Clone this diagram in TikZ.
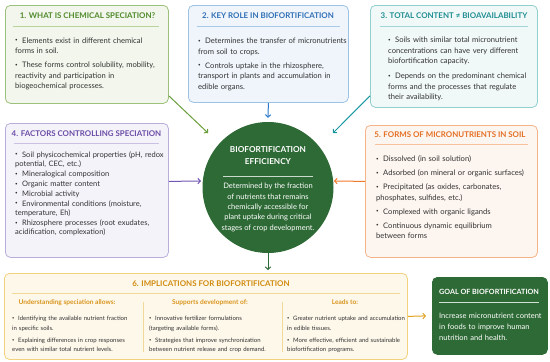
\documentclass[tikz,border=0pt]{standalone}
\usepackage{fontspec}
\setmainfont{Lato}
\usetikzlibrary{arrows.meta}
\definecolor{txt}{HTML}{333333}
\definecolor{gT}{HTML}{4F8A2A}\definecolor{gB}{HTML}{9DC07A}\definecolor{gF}{HTML}{F2F6EC}\definecolor{gR}{HTML}{B8D39D}\definecolor{gA}{HTML}{6B9E3A}
\definecolor{bT}{HTML}{2F6EB5}\definecolor{bB}{HTML}{9CC2E6}\definecolor{bF}{HTML}{EFF5FB}\definecolor{bR}{HTML}{A9C9E8}\definecolor{bA}{HTML}{2D7BC8}
\definecolor{tT}{HTML}{1F8E92}\definecolor{tB}{HTML}{92CFCF}\definecolor{tF}{HTML}{F1F8F8}\definecolor{tR}{HTML}{A3D6D6}\definecolor{tA}{HTML}{1998A2}
\definecolor{pT}{HTML}{6A4CA6}\definecolor{pB}{HTML}{B9AEDA}\definecolor{pF}{HTML}{F5F3FA}\definecolor{pR}{HTML}{C9C0E3}\definecolor{pA}{HTML}{7256B4}
\definecolor{oT}{HTML}{E46F25}\definecolor{oB}{HTML}{F4B487}\definecolor{oF}{HTML}{FDF5EF}\definecolor{oR}{HTML}{F6C29E}\definecolor{oA}{HTML}{EF7A2C}
\definecolor{yT}{HTML}{D08A0E}\definecolor{yS}{HTML}{D9951C}\definecolor{yB}{HTML}{F3D27E}\definecolor{yF}{HTML}{FEF8EB}\definecolor{yR}{HTML}{F1D99A}\definecolor{yA}{HTML}{E3A21F}
\definecolor{dkg}{HTML}{2E6A36}
\newcommand\bitem[2][3.5pt]{\par\vspace{#1}\noindent\hangindent=7pt\hangafter=1\makebox[7pt][l]{\raisebox{0.35ex}{\fontsize{4.5}{5}\selectfont\textbullet}}\strut#2}
\newcommand\bitemb[2][2.7pt]{\par\vspace{#1}\noindent\hangindent=6pt\hangafter=1\makebox[6pt][l]{\raisebox{0.35ex}{\fontsize{4}{5}\selectfont\textbullet}}\strut#2}
\tikzset{
  box/.style={draw, rounded corners=5pt, line width=0.8pt, inner sep=0pt, anchor=north west},
  ttl/.style={font=\fontsize{7.9}{9}\selectfont\bfseries, inner sep=0pt, text height=5.6pt, text depth=0pt},
  body/.style={text width=#1, inner sep=0pt, anchor=north west, text=txt, font=\fontsize{7.6}{10.5}\selectfont},
  bodyb/.style={text width=#1, inner sep=0pt, anchor=north west, text=txt, font=\fontsize{6}{9.3}\selectfont},
  sub/.style={font=\fontsize{6.6}{7}\selectfont\bfseries, text=yS, inner sep=0pt, text height=4.8pt, text depth=1.5pt},
  rule/.style={line width=0.7pt},
  conn/.style={line width=1pt, -{Straight Barb[length=2.5pt,width=5.5pt]}}
}
\begin{document}
\begin{tikzpicture}[x=1pt,y=-1pt]
\useasboundingbox (0,0) rectangle (550,362);
% boxes
\node[box, draw=gB, fill=gF, minimum width=163pt, minimum height=98pt] (b1) at (5,5) {};
\node[box, draw=bB, fill=bF, minimum width=160pt, minimum height=97pt] (b2) at (188,5) {};
\node[box, draw=tB, fill=tF, minimum width=167pt, minimum height=102pt] (b3) at (370,5) {};
\node[box, draw=pB, fill=pF, minimum width=163pt, minimum height=134pt] (b4) at (5,123) {};
\node[box, draw=oB, fill=oF, minimum width=172pt, minimum height=132pt] (b5) at (365,125) {};
\node[box, draw=yB, fill=yF, minimum width=403pt, minimum height=86pt] (b6) at (4,273) {};
\node[box, draw=dkg, fill=dkg, minimum width=115pt, minimum height=77pt] (goal) at (432,277) {};
\node[circle, fill=dkg, minimum size=131pt, inner sep=0pt] (c) at (268,187.5) {};
% titles
\node[ttl, text=gT] (t1) at (87.5,16) {1. WHAT IS CHEMICAL SPECIATION?};
\node[ttl, text=bT] (t2) at (268,16) {2. KEY ROLE IN BIOFORTIFICATION};
\node[ttl, text=tT] (t3) at (454,16) {3. TOTAL CONTENT ≠ BIOAVAILABILITY};
\node[ttl, text=pT] (t4) at (86.5,134) {4. FACTORS CONTROLLING SPECIATION};
\node[ttl, text=oT] (t5) at (450,135) {5. FORMS OF MICRONUTRIENTS IN SOIL};
\node[ttl, text=yT] (t6) at (211,284) {6. IMPLICATIONS FOR BIOFORTIFICATION};
\node[ttl, text=white, anchor=west, font=\fontsize{7.2}{8}\selectfont\bfseries] (tg) at (439,292) {GOAL OF BIOFORTIFICATION};
\node[text=white, align=center, inner sep=0pt, font=\fontsize{8.2}{12.4}\selectfont\bfseries] (tc) at (268,155.5) {BIOFORTIFICATION\\EFFICIENCY};
% rules
\draw[rule, gR] (13,26) -- (159,26);
\draw[rule, bR] (197,26) -- (340,26);
\draw[rule, tR] (380,26) -- (528,26);
\draw[rule, pR] (14,143) -- (159,143);
\draw[rule, oR] (375,144) -- (528,144);
\draw[rule, yR] (12,293) -- (400,293);
\draw[rule, white!80!dkg] (439,302) -- (539,302);
\draw[rule, white!75!dkg] (223,176) -- (313,176);
\draw[line width=0.6pt, yR] (143,302) -- (143,352);
\draw[line width=0.6pt, yR] (282,302) -- (282,352);
% bodies
\node[body=170pt] (x1) at (15,32.6) {\raggedright
\bitem[0pt]{Elements exist in different chemical\\forms in soil.}
\bitem{These forms control solubility, mobility,\\reactivity and participation in\\biogeochemical processes.}};
\node[body=170pt] (x2) at (198,32.9) {\raggedright
\bitem[0pt]{Determines the transfer of micronutrients\\from soil to crops.}
\bitem{Controls uptake in the rhizosphere,\\transport in plants and accumulation in\\edible organs.}};
\node[body=170pt] (x3) at (388,31.9) {\raggedright
\bitem[0pt]{Soils with similar total micronutrient\\concentrations can have very different\\biofortification capacity.}
\bitem[4.5pt]{Depends on the predominant chemical\\forms and the processes that regulate\\their availability.}};
\node[body=170pt, font=\fontsize{7.5}{9.3}\selectfont] (x4) at (15,147.8) {\raggedright
\bitem[0pt]{Soil physicochemical properties (pH, redox\\potential, CEC, etc.)}
\bitem[0.6pt]{Mineralogical composition}
\bitem[0.6pt]{Organic matter content}
\bitem[0.6pt]{Microbial activity}
\bitem[0.6pt]{Environmental conditions (moisture,\\temperature, Eh)}
\bitem[0.6pt]{Rhizosphere processes (root exudates,\\acidification, complexation)}};
\node[body=170pt] (x5) at (376,150.9) {\raggedright
\bitem[0pt]{Dissolved (in soil solution)}
\bitem{Adsorbed (on mineral or organic surfaces)}
\bitem{Precipitated (as oxides, carbonates,\\phosphates, sulfides, etc.)}
\bitem{Complexed with organic ligands}
\bitem{Continuous dynamic equilibrium\\between forms}};
\node[text=white, align=center, inner sep=0pt, font=\fontsize{7.5}{10.4}\selectfont] (xc) at (268,207.5) {Determined by the fraction\\of nutrients that remains\\chemically accessible for\\plant uptake during critical\\stages of crop development.};
\node[body=130pt, text=white, font=\fontsize{7.5}{11.3}\selectfont] (xg) at (439,310.1) {\raggedright\strut Increase micronutrient content\\in foods to improve human\\nutrition and health.};
% box 6 columns
\node[sub] (s1) at (67,303) {Understanding speciation allows:};
\node[sub] (s2) at (210,303) {Supports development of:};
\node[sub] (s3) at (345,303) {Leads to:};
\node[bodyb=150pt] (y1) at (12,311.3) {\raggedright
\bitemb[0pt]{Identifying the available nutrient fraction\\in specific soils.}
\bitemb{Explaining differences in crop responses\\even with similar total nutrient levels.}};
\node[bodyb=150pt] (y2) at (149,311.3) {\raggedright
\bitemb[0pt]{Innovative fertilizer formulations\\(targeting available forms).}
\bitemb{Strategies that improve synchronization\\between nutrient release and crop demand.}};
\node[bodyb=150pt] (y3) at (287,311.3) {\raggedright
\bitemb[0pt]{Greater nutrient uptake and accumulation\\in edible tissues.}
\bitemb{More effective, efficient and sustainable\\biofortification programs.}};
% connectors
\coordinate (a1) at (208,133);
\coordinate (a3) at (333,133);
\coordinate (a4) at (201,181);
\coordinate (a5) at (334,181);
\coordinate (a6) at (268,270);
\draw[conn, gA] ([yshift=8pt]b1.south east) -- (a1);
\draw[conn, tA] ([yshift=12pt]b3.south west) -- (a3);
\draw[conn, bA] (b2.south) -- ([yshift=4pt]c.north);
\draw[conn, pA] ([yshift=9pt]b4.east) -- (a4);
\draw[conn, oA] ([yshift=10pt]b5.west) -- (a5);
\draw[conn, dkg] (c.south) -- (a6);
\draw[conn, yA] (b6.east) -- ([xshift=-6pt]goal.west);
\end{tikzpicture}
\end{document}
